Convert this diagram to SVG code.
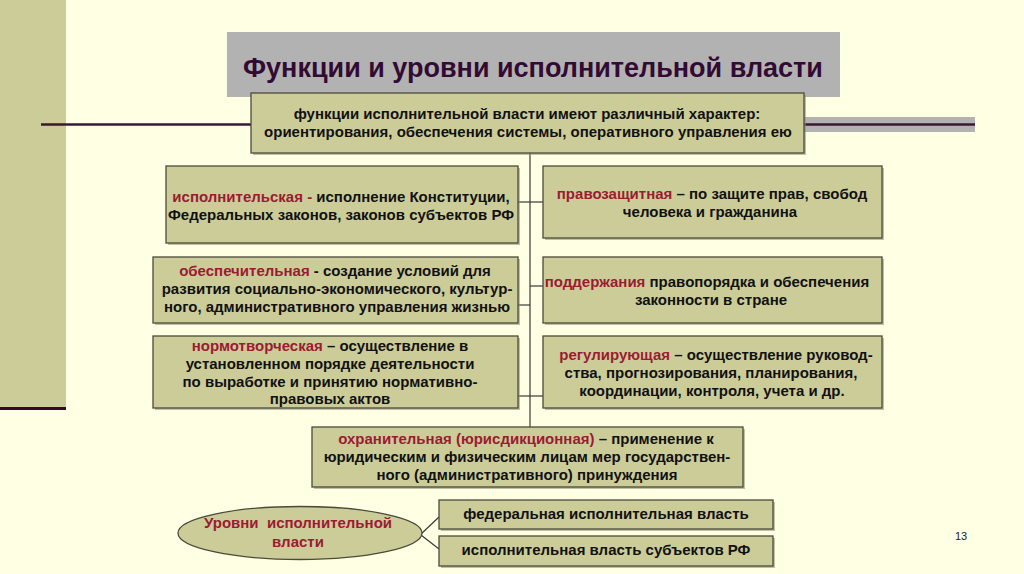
<svg xmlns="http://www.w3.org/2000/svg" width="1024" height="574" viewBox="0 0 1024 574">
<style>
.bg{fill:#FFFFE3}
.box{fill:#CCCC99;stroke:#4A4A3C;stroke-width:1.3}
.sh{fill:#8C8C70;opacity:.55}
.t{font-family:"Liberation Sans",Arial,sans-serif;font-weight:bold;font-size:15px;fill:#111;text-anchor:middle}
.r{fill:#9B1B32}
.con{stroke:#3A3A3A;stroke-width:1.2;fill:none}
</style>
<rect class="bg" x="0" y="0" width="1024" height="574"/>
<g id="decor">
<rect x="0" y="0" width="66" height="408" fill="#CCCC99"/>
<rect x="0" y="407" width="66" height="3" fill="#2E0A2C"/>
<rect x="800" y="117" width="175" height="15" fill="#B2B2B2"/>
<line x1="41" y1="124.5" x2="975" y2="124.5" stroke="#3A1834" stroke-width="2.5"/>
</g>
<g id="title">
<rect x="227" y="32" width="613" height="65" fill="#B2B2B2"/>
<text x="533" y="77" font-family="'Liberation Sans',Arial,sans-serif" font-weight="bold" font-size="27" fill="#330A33" text-anchor="middle">Функции и уровни исполнительной власти</text>
</g>
<g id="connectors">
<line class="con" x1="530" y1="153" x2="530" y2="427"/>
<line class="con" x1="518" y1="202" x2="543" y2="202"/>
<line class="con" x1="518" y1="305" x2="530" y2="305"/>
<line class="con" x1="530" y1="286" x2="543" y2="286"/>
<line class="con" x1="518" y1="396" x2="543" y2="396"/>
<line class="con" x1="420" y1="535" x2="439" y2="517"/>
<line class="con" x1="421" y1="535" x2="439" y2="549"/>
</g>
<g id="top">
<rect class="sh" x="253" y="95" width="553" height="60"/>
<rect class="box" x="251" y="93" width="553" height="60"/>
<text class="t" x="527" y="119">функции исполнительной власти имеют различный характер:</text>
<text class="t" x="528" y="137">ориентирования, обеспечения системы, оперативного управления ею</text>
</g>
<g id="ispolnitelskaya">
<rect class="sh" x="168" y="168" width="352" height="77"/>
<rect class="box" x="166" y="166" width="352" height="77"/>
<text class="t" x="341" y="202"><tspan class="r">исполнительская -</tspan> исполнение Конституции,</text>
<text class="t" x="341" y="220">Федеральных законов, законов субъектов РФ</text>
</g>
<g id="pravozashchitnaya">
<rect class="sh" x="545" y="168" width="339" height="72"/>
<rect class="box" x="543" y="166" width="339" height="72"/>
<text class="t" x="712" y="199"><tspan class="r">правозащитная</tspan> – по защите прав, свобод</text>
<text class="t" x="710" y="217">человека и гражданина</text>
</g>
<g id="obespechitelnaya">
<rect class="sh" x="155" y="259" width="365" height="66"/>
<rect class="box" x="153" y="257" width="365" height="66"/>
<text class="t" x="335" y="276"><tspan class="r">обеспечительная</tspan> - создание условий для</text>
<text class="t" x="337" y="294">развития социально-экономического, культур-</text>
<text class="t" x="337" y="312">ного, административного управления жизнью</text>
</g>
<g id="podderzhaniya">
<rect class="sh" x="545" y="259" width="339" height="66"/>
<rect class="box" x="543" y="257" width="339" height="66"/>
<text class="t" x="707" y="287"><tspan class="r">поддержания</tspan> правопорядка и обеспечения</text>
<text class="t" x="711" y="305">законности в стране</text>
</g>
<g id="normotvorcheskaya">
<rect class="sh" x="155" y="338" width="365" height="72"/>
<rect class="box" x="153" y="336" width="365" height="72"/>
<text class="t" x="330" y="351"><tspan class="r">нормотворческая</tspan> – осуществление в</text>
<text class="t" x="330" y="369">установленном порядке деятельности</text>
<text class="t" x="330" y="387">по выработке и принятию нормативно-</text>
<text class="t" x="330" y="404">правовых актов</text>
</g>
<g id="reguliruyushchaya">
<rect class="sh" x="545" y="338" width="339" height="72"/>
<rect class="box" x="543" y="336" width="339" height="72"/>
<text class="t" x="716" y="360"><tspan class="r">регулирующая</tspan> – осуществление руковод-</text>
<text class="t" x="711" y="378">ства, прогнозирования, планирования,</text>
<text class="t" x="712" y="396">координации, контроля, учета и др.</text>
</g>
<g id="okhranitelnaya">
<rect class="sh" x="314" y="429" width="431" height="60"/>
<rect class="box" x="312" y="427" width="431" height="60"/>
<text class="t" x="526" y="444"><tspan class="r">охранительная (юрисдикционная)</tspan> – применение к</text>
<text class="t" x="527" y="462">юридическим и физическим лицам мер государствен-</text>
<text class="t" x="527" y="480">ного (административного) принуждения</text>
</g>
<g id="urovni">
<ellipse cx="300" cy="533" rx="122" ry="26.5" class="box"/>
<text class="t r" x="298" y="528" style="white-space:pre">Уровни  исполнительной</text>
<text class="t r" x="298" y="547">власти</text>
</g>
<g id="federal">
<rect class="sh" x="441" y="502" width="334" height="29"/>
<rect class="box" x="439" y="500" width="334" height="29"/>
<text class="t" x="606" y="519">федеральная исполнительная власть</text>
</g>
<g id="subekty">
<rect class="sh" x="441" y="538" width="334" height="30"/>
<rect class="box" x="439" y="536" width="334" height="30"/>
<text class="t" x="606" y="555">исполнительная власть субъектов РФ</text>
</g>
<text x="961" y="540" font-family="'Liberation Sans',Arial,sans-serif" font-size="11" fill="#222" text-anchor="middle">13</text>
</svg>
